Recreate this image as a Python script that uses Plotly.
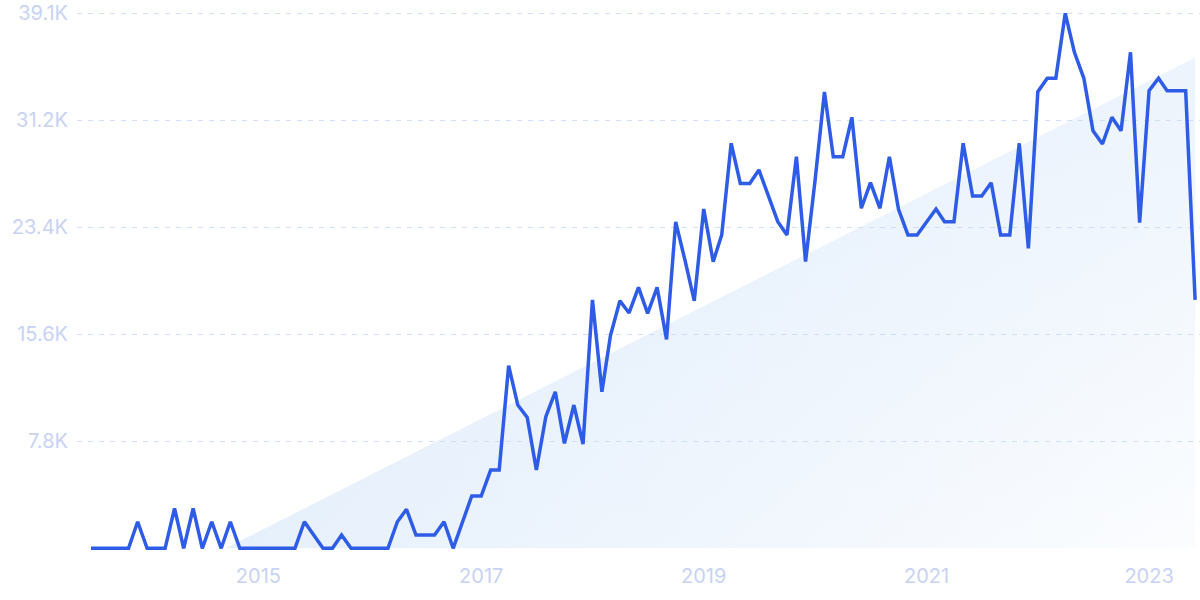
import numpy as np
import pandas as pd
import plotly.graph_objects as go

# ---- data ----
start_month = "2013-07-01"
values = [
    0, 0, 0, 0, 0, 1940, 0, 0, 0, 2920,
    0, 2920, 0, 1940, 0, 1940, 0, 0, 0, 0,
    0, 0, 0, 1940, 970, 0, 0, 970, 0, 0,
    0, 0, 0, 1940, 2850, 970, 970, 970, 1940, 0,
    1940, 3820, 3820, 5720, 5720, 13350, 10470, 9570, 5720, 9620,
    11440, 7670, 10470, 7620, 18150, 11440, 15550, 18090, 17200, 19070,
    17170, 19070, 15270, 23850, 21000, 18090, 24800, 20950, 22900, 29600,
    26670, 26670, 27650, 25750, 23870, 22900, 28620, 20950, 26840, 33350,
    28620, 28620, 31500, 24850, 26720, 24850, 28620, 24770, 22900, 22900,
    23870, 24800, 23870, 23870, 29600, 25750, 25750, 26720, 22900, 22900,
    29600, 21920, 33370, 34350, 34350, 39100, 36250, 34350, 30520, 29550,
    31500, 30520, 36250, 23800, 33440, 34350, 33440, 33440, 33440, 18150,
]
y_tick_values = [7820, 15640, 23460, 31280, 39100]
y_tick_labels = ["7.8K", "15.6K", "23.4K", "31.2K", "39.1K"]
x_tick_dates = ["2015-01-01", "2017-01-01", "2019-01-01", "2021-01-01", "2023-01-01"]
x_tick_labels = ["2015", "2017", "2019", "2021", "2023"]

dates = pd.date_range(start_month, periods=len(values), freq="MS")
idx = np.arange(len(values))
vals = np.array(values, dtype=float)

# linear trend (regression) clipped at zero
slope, intercept = np.polyfit(idx, vals, 1)
cross = -intercept / slope
day_num = (dates - dates[0]).days.values.astype(float)
cross_day = np.interp(cross, idx, day_num)
cross_date = dates[0] + pd.Timedelta(days=float(cross_day))
trend_end = slope * idx[-1] + intercept
trend_x = [cross_date, dates[-1]]
trend_y = [0, trend_end]

line_color = "#2e5ce6"
tick_color = "#c8d3f4"
grid_color = "#d3dffa"
fill_rgb = "200,222,248"

fig = go.Figure()
fig.add_trace(go.Scatter(
    x=trend_x, y=trend_y, mode="lines", line=dict(width=0),
    fill="tozeroy",
    fillgradient=dict(type="horizontal",
                      colorscale=[[0, f"rgba({fill_rgb},0.46)"], [1, f"rgba({fill_rgb},0.07)"]]),
    hoverinfo="skip", showlegend=False,
))
fig.add_trace(go.Scatter(
    x=trend_x, y=trend_y, mode="lines", line=dict(width=0),
    fill="tozeroy",
    fillgradient=dict(type="vertical",
                      colorscale=[[0, f"rgba({fill_rgb},0)"], [1, f"rgba({fill_rgb},0.29)"]]),
    hoverinfo="skip", showlegend=False,
))
fig.add_trace(go.Scatter(
    x=dates, y=vals, mode="lines",
    line=dict(color=line_color, width=3.5),
    showlegend=False,
))

x_start = dates[0] - pd.Timedelta(days=46)
x_end = dates[-1] + pd.Timedelta(days=16)

fig.update_layout(
    width=1200, height=600,
    margin=dict(l=77, r=0, t=0, b=44),
    paper_bgcolor="white", plot_bgcolor="white",
    font=dict(family="Inter, Roboto, sans-serif", size=20, color=tick_color),
    xaxis=dict(
        type="date", range=[x_start, x_end],
        tickvals=x_tick_dates, ticktext=x_tick_labels,
        showgrid=False, zeroline=False, showline=False, ticks="",
        tickfont=dict(size=20, color=tick_color),
        ticklabelstandoff=6,
    ),
    yaxis=dict(
        range=[-563, 40072],
        tickvals=y_tick_values, ticktext=y_tick_labels,
        showgrid=True, gridcolor=grid_color, griddash="5px,6px", gridwidth=1,
        zeroline=False, showline=False, ticks="",
        tickfont=dict(size=20, color=tick_color),
        ticklabelstandoff=8,
    ),
)

fig.write_html("out.html")
